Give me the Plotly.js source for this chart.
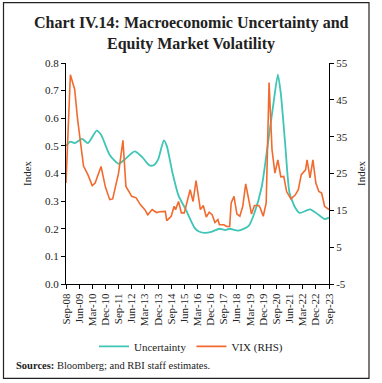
<!DOCTYPE html>
<html>
<head>
<meta charset="utf-8">
<script src="https://cdn.plot.ly/plotly-3.0.1.min.js"></script>
<style>
html,body{margin:0;padding:0;background:#fff;}
#chart{width:382px;height:383px;}
</style>
</head>
<body>
<div id="chart"></div>
<script>
// Uncertainty index (left axis)
const uncDates = ['2008-09-01','2008-12-01','2009-03-01','2009-08-01','2009-12-01','2010-06-01','2010-09-01','2011-03-01','2011-09-01','2012-01-01','2012-08-01','2013-01-01','2013-06-01','2013-09-01','2013-12-01','2014-04-01','2014-06-01','2014-10-01','2015-02-01','2015-07-01','2016-01-01','2016-04-01','2016-08-01','2017-01-01','2017-06-01','2017-10-01','2018-01-01','2018-07-01','2019-02-01','2019-06-01','2019-11-01','2020-03-01','2020-07-01','2020-10-01','2020-12-01','2021-03-01','2021-06-01','2021-10-01','2022-01-01','2022-08-01','2023-02-01','2023-06-01','2023-09-01'];
const uncValues = [0.50,0.515,0.51,0.525,0.51,0.555,0.54,0.467,0.435,0.45,0.48,0.46,0.43,0.43,0.45,0.52,0.50,0.40,0.32,0.27,0.203,0.19,0.185,0.19,0.20,0.195,0.20,0.193,0.21,0.257,0.353,0.50,0.653,0.758,0.69,0.51,0.33,0.275,0.257,0.27,0.25,0.235,0.24];

// VIX (right axis)
const vixDates = ['2008-09-01','2008-12-01','2009-03-01','2009-05-01','2009-09-01','2009-12-01','2010-03-01','2010-05-01','2010-09-01','2010-12-01','2011-03-01','2011-05-01','2011-09-01','2011-12-01','2012-02-01','2012-06-01','2012-09-01','2012-12-01','2013-03-01','2013-05-01','2013-08-01','2013-11-01','2014-01-01','2014-05-01','2014-06-01','2014-09-01','2014-11-01','2014-12-01','2015-02-01','2015-04-01','2015-06-01','2015-08-01','2015-10-01','2015-12-01','2016-02-01','2016-05-01','2016-07-01','2016-09-01','2016-11-01','2017-01-01','2017-03-01','2017-05-01','2017-06-01','2017-09-01','2017-11-01','2018-01-01','2018-02-01','2018-04-01','2018-06-01','2018-08-01','2018-10-01','2018-12-01','2019-02-01','2019-04-01','2019-06-01','2019-09-01','2019-10-01','2019-12-01','2020-02-01','2020-04-01','2020-06-01','2020-08-01','2020-10-01','2020-12-01','2021-02-01','2021-04-01','2021-07-01','2021-10-01','2021-12-01','2022-02-01','2022-05-01','2022-06-01','2022-08-01','2022-10-01','2022-12-01','2023-02-01','2023-04-01','2023-06-01','2023-09-01'];
const vixValues = [22.4,51.8,47.8,39.6,27.0,24.7,21.7,22.4,26.9,21.3,17.9,18.1,25.1,34.0,21.5,18.8,18.4,16.5,15.2,13.8,15.2,14.4,14.6,14.7,12.2,13.4,16.1,15.2,17.4,14.3,14.3,17.4,20.6,17.4,23.1,15.2,16.3,13.2,14.5,13.8,11.7,12.5,11.1,11.1,10.6,10.6,17.0,18.8,14.0,13.4,16.1,22.2,17.9,14.0,16.3,16.3,15.6,13.4,17.0,49.7,31.5,25.1,28.7,24.1,24.2,20.1,18.1,19.2,20.6,24.7,26.0,28.7,23.8,28.7,22.4,20.1,19.7,16.1,15.2];

// X tick labels (every 9 months)
const xTickVals = ['2008-09-01','2009-06-01','2010-03-01','2010-12-01','2011-09-01','2012-06-01','2013-03-01','2013-12-01','2014-09-01','2015-06-01','2016-03-01','2016-12-01','2017-09-01','2018-06-01','2019-03-01','2019-12-01','2020-09-01','2021-06-01','2022-03-01','2022-12-01','2023-09-01'];
const xTickText = ['Sep-08','Jun-09','Mar-10','Dec-10','Sep-11','Jun-12','Mar-13','Dec-13','Sep-14','Jun-15','Mar-16','Dec-16','Sep-17','Jun-18','Mar-19','Dec-19','Sep-20','Jun-21','Mar-22','Dec-22','Sep-23'];

// Right axis tick labels
const y2TickVals = [-5, 5, 15, 25, 35, 45, 55];
const y2TickText = ['-5', '5', '15', '25', '35', '45', '55'];

const serif = '"Liberation Serif", "DejaVu Serif", serif';
const txt = '#222';

const traces = [
  {x: uncDates, y: uncValues, name: 'Uncertainty', type: 'scatter', mode: 'lines',
   line: {color: '#3ec5b5', width: 1.8, shape: 'spline', smoothing: 0.6}, yaxis: 'y'},
  {x: vixDates, y: vixValues, name: 'VIX (RHS)', type: 'scatter', mode: 'lines',
   line: {color: '#f26a2e', width: 1.6}, yaxis: 'y2'}
];

const L = 66, R = 329, T = 63, B = 284.5, W = 382, H = 383;
function px(p){ return (p - L) / (R - L); }
function py(p){ return (B - p) / (B - T); }

const layout = {
  width: W, height: H,
  margin: {l: L, r: W - R, t: T, b: H - B, pad: 0},
  paper_bgcolor: '#fff', plot_bgcolor: '#fff',
  font: {family: serif, color: txt, size: 11},
  showlegend: true,
  xaxis: {
    type: 'date',
    range: ['2008-09-01', '2023-09-01'],
    tickmode: 'array', tickvals: xTickVals, ticktext: xTickText,
    tickangle: -90, ticks: 'outside', ticklen: 4, tickcolor: '#000',
    showline: true, linecolor: '#000', linewidth: 1,
    showgrid: false, zeroline: false,
    tickfont: {family: serif, size: 11, color: txt}
  },
  yaxis: {
    range: [0, 0.8], dtick: 0.1, tickformat: '.1f',
    ticks: 'outside', ticklen: 4, tickcolor: '#000',
    showline: true, linecolor: '#000', linewidth: 1,
    showgrid: false, zeroline: false,
    tickfont: {family: serif, size: 11, color: txt},
    title: {text: 'Index', font: {family: serif, size: 11, color: txt}, standoff: 11}
  },
  yaxis2: {
    overlaying: 'y', side: 'right',
    range: [-5, 55],
    tickmode: 'array', tickvals: y2TickVals, ticktext: y2TickText,
    ticks: 'outside', ticklen: 4, tickcolor: '#000',
    showline: true, linecolor: '#000', linewidth: 1,
    showgrid: false, zeroline: false,
    tickfont: {family: serif, size: 11, color: txt},
    title: {text: 'Index', font: {family: serif, size: 11, color: txt}, standoff: 10}
  },
  legend: {
    orientation: 'h', x: px(191), xanchor: 'center', y: py(347), yanchor: 'middle',
    font: {family: serif, size: 11, color: txt}, bgcolor: 'rgba(0,0,0,0)',
    itemwidth: 30, tracegroupgap: 0
  },
  annotations: [
    {text: '<b>Chart IV.14: Macroeconomic Uncertainty and</b>', xref: 'paper', yref: 'paper',
     x: px(191), y: py(23), xanchor: 'center', yanchor: 'middle', showarrow: false,
     font: {family: serif, size: 16, color: '#222'}},
    {text: '<b>Equity Market Volatility</b>', xref: 'paper', yref: 'paper',
     x: px(191), y: py(44), xanchor: 'center', yanchor: 'middle', showarrow: false,
     font: {family: serif, size: 16, color: '#222'}},
    {text: '<b>Sources:</b> Bloomberg; and RBI staff estimates.', xref: 'paper', yref: 'paper',
     x: px(14), y: py(366), xanchor: 'left', yanchor: 'middle', showarrow: false,
     font: {family: serif, size: 10.5, color: txt}}
  ],
  shapes: [
    {type: 'rect', xref: 'paper', yref: 'paper', x0: px(3.5), x1: px(369), y0: py(379), y1: py(2.5),
     line: {color: '#222', width: 1.2}, fillcolor: 'rgba(0,0,0,0)', layer: 'above'}
  ]
};

Plotly.newPlot('chart', traces, layout, {displayModeBar: false, staticPlot: true});
</script>
</body>
</html>
